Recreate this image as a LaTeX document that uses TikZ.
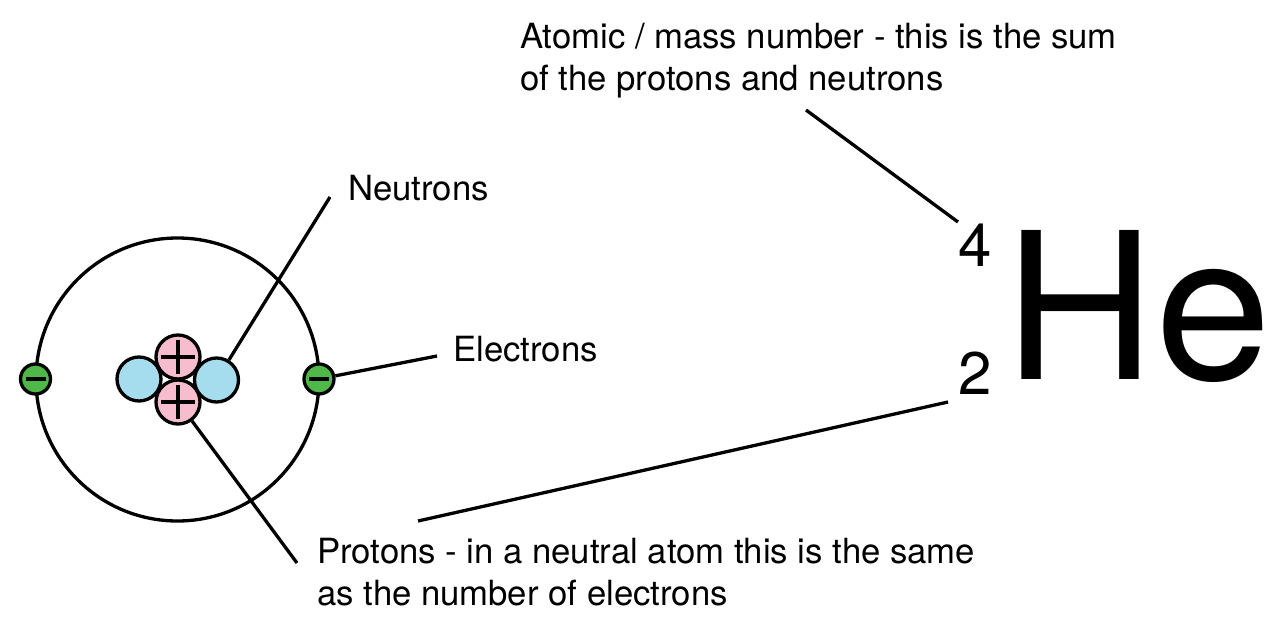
\documentclass[tikz,border=0pt]{standalone}
\usepackage{graphicx}
\usepackage{fontspec}
\setmainfont{TeX Gyre Heros}
\definecolor{protonpink}{HTML}{F7BCCD}
\definecolor{neutronblue}{HTML}{A6DDEE}
\definecolor{electrongreen}{HTML}{50B848}
\tikzset{
  wire/.style={line width=3.3pt},
  particle/.style={circle,draw=black,line width=3.3pt,inner sep=0pt,minimum size=#1},
  proton/.style={particle=44pt,fill=protonpink},
  neutron/.style={particle=44pt,fill=neutronblue},
  electron/.style={particle=30pt,fill=electrongreen},
  caption/.style={inner sep=0pt,anchor=base west,font=\fontsize{34.7}{42}\selectfont},
  digit/.style={inner sep=0pt,anchor=base west,font=\fontsize{60}{60}\selectfont},
}
\begin{document}
\begin{tikzpicture}[x=1pt,y=-1pt]
  \useasboundingbox (0,0) rectangle (1280,629);

  % Orbit shell
  \node[circle,draw=black,line width=3.3pt,inner sep=0pt,minimum size=283pt] (shell) at (177.5,379.5) {};

  % Nucleus: neutrons sit behind the protons
  \node[neutron] (nleft) at (139,379) {};
  \node[neutron] (nright) at (216.5,380) {};
  \node[proton] (ptop) at (178,357) {};
  \node[proton] (pbottom) at (178,402) {};
  \foreach \p in {ptop,pbottom}{
    \draw[wire] ([xshift=-17pt]\p.center) -- ([xshift=17pt]\p.center);
    \draw[wire] ([yshift=-17pt]\p.center) -- ([yshift=17pt]\p.center);
  }

  % Electrons on the shell
  \node[electron] (eleft) at (35.5,379) {};
  \node[electron] (eright) at (319,379) {};
  \foreach \e in {eleft,eright}{
    \draw[wire] ([xshift=-10pt]\e.center) -- ([xshift=10pt]\e.center);
  }

  % Labels
  \node[caption] (lneutrons) at (348,200.7) {Neutrons};
  \node[caption] (lelectrons) at (453,361.7) {Electrons};
  \node[caption] (lmass1) at (520,48.7) {Atomic / mass number - this is the sum};
  \node[caption] (lmass2) at (520,90.7) {of the protons and neutrons};
  \node[caption] (lprot1) at (317,563.7) {Protons - in a neutral atom this is the same};
  \node[caption] (lprot2) at (317,605.7) {as the number of electrons};

  % Element symbol
  \node[inner sep=0pt,anchor=base west,font=\fontsize{204.5}{208}\selectfont] (symbol) at (1004.5,379) {\scalebox{1.022}[1]{He}};
  \node[digit] (mass) at (958,266) {4};
  \node[digit] (atomic) at (958,394) {2};

  % Free ends of the leader lines
  \coordinate (fneutrons) at (330,197);
  \coordinate (felectrons) at (437,356);
  \coordinate (fprotons) at (297,563);
  \coordinate (fmassa) at (806,110);
  \coordinate (fmassb) at (958,222);
  \coordinate (fatoma) at (418,521);
  \coordinate (fatomb) at (948,402);

  \draw[wire] (nright) -- (fneutrons);
  \draw[wire] (eright) -- (felectrons);
  \draw[wire] (pbottom) -- (fprotons);
  \draw[wire] (fmassa) -- (fmassb);
  \draw[wire] (fatoma) -- (fatomb);
\end{tikzpicture}
\end{document}
